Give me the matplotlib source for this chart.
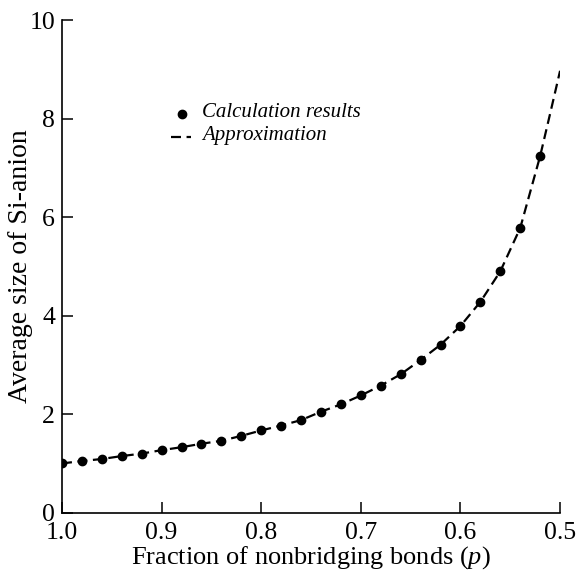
import numpy as np
import matplotlib.pyplot as plt

# Calculated average Si-anion size vs fraction of nonbridging bonds
p_calc = [1.00, 0.98, 0.96, 0.94, 0.92, 0.90, 0.88, 0.86, 0.84, 0.82,
          0.80, 0.78, 0.76, 0.74, 0.72, 0.70, 0.68, 0.66, 0.64, 0.62,
          0.60, 0.58, 0.56, 0.54, 0.52]
size_calc = [1.00, 1.05, 1.09, 1.15, 1.20, 1.27, 1.33, 1.40, 1.46, 1.56,
             1.67, 1.77, 1.88, 2.05, 2.20, 2.38, 2.58, 2.81, 3.10, 3.41,
             3.79, 4.28, 4.90, 5.78, 7.24]

# Approximation curve
p_fit = p_calc + [0.51, 0.50]
size_fit = size_calc + [8.10, 8.97]

plt.rcParams['font.family'] = ['Liberation Serif', 'DejaVu Serif']
plt.rcParams['mathtext.fontset'] = 'custom'
plt.rcParams['mathtext.it'] = 'Liberation Serif:italic'
plt.rcParams['mathtext.rm'] = 'Liberation Serif'

fig = plt.figure(figsize=(5.81, 5.73), dpi=100)
ax = fig.add_axes([0.1067, 0.1052, 0.8573, 0.8598])

ax.plot(p_fit, size_fit, color='black', linestyle=(0, (4.5, 2.5)),
        linewidth=1.6, zorder=2)
ax.plot(p_calc, size_calc, 'o', color='black', markersize=6, zorder=3)

ax.set_xlim(1.0, 0.5)
ax.set_ylim(0, 10)
ax.set_xticks([1.0, 0.9, 0.8, 0.7, 0.6, 0.5])
ax.set_xticklabels(['1.0', '0.9', '0.8', '0.7', '0.6', '0.5'])
ax.set_yticks([0, 2, 4, 6, 8, 10])

for side in ['top', 'right']:
    ax.spines[side].set_visible(False)
for side in ['left', 'bottom']:
    ax.spines[side].set_linewidth(1.2)
ax.tick_params(direction='in', length=8, width=1.1, labelsize=18.5)
ax.tick_params(axis='x', pad=6.5)
ax.tick_params(axis='y', pad=5)

ax.set_xlabel('Fraction of nonbridging bonds ($p$)', fontsize=19, labelpad=0)
ax.set_ylabel('Average size of Si-anion', fontsize=20, labelpad=-3)

# Hand-placed key in the upper left
ax.plot([0.8795], [8.09], 'o', color='black', markersize=6)
ax.plot([0.891, 0.870], [7.62, 7.62], color='black',
        linestyle=(0, (4.5, 2.5)), linewidth=1.6)
ax.text(0.859, 8.12, 'Calculation results', style='italic', fontsize=15,
        va='center', ha='left')
ax.text(0.859, 7.65, 'Approximation', style='italic', fontsize=15,
        va='center', ha='left')

plt.savefig('out.png', dpi=100)
plt.close()
